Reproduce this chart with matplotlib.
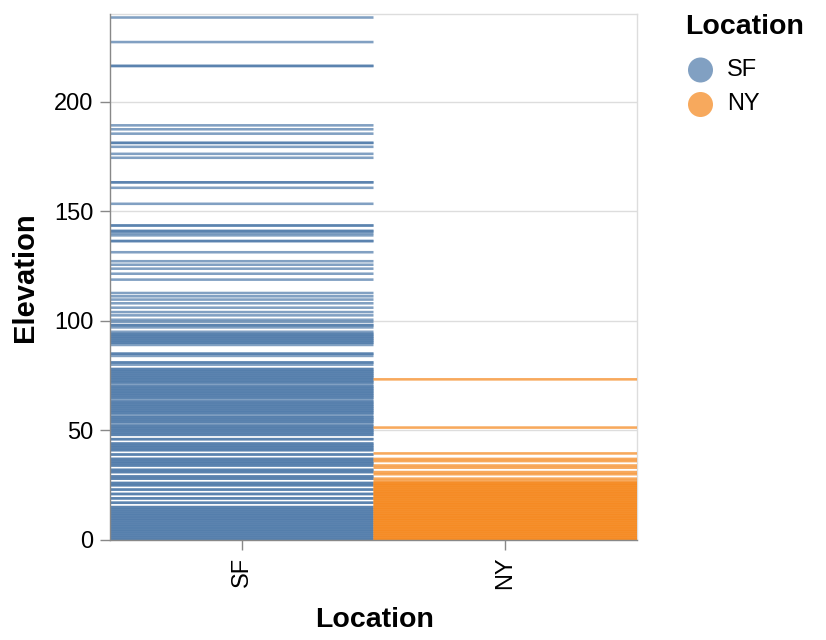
import matplotlib
matplotlib.use('Agg')
import matplotlib.pyplot as plt
from matplotlib.patches import Circle

# ---- data ----
locations = ['SF', 'NY']

sf_elevation = [
    0, 0, 1, 1, 2, 2, 3, 3, 4, 4, 5, 5, 6, 6, 7, 7, 8, 8, 9, 9,
    10, 10, 11, 11, 12, 12, 13, 13, 14, 14, 15, 15,
    17, 19, 21, 23, 25, 26, 28, 29, 31, 32, 34, 35, 36, 37, 39,
    17, 19, 21, 23, 25, 26, 28, 29, 31, 32, 34, 35, 36, 37, 39,
    41, 42, 43, 44, 46, 41, 42, 43, 44, 46,
    48, 49, 50, 51, 52, 53, 54, 55, 56, 57, 58, 59,
    60, 61, 62, 63, 64, 65, 66, 67, 68, 69, 70, 71, 72, 73, 74, 75, 76, 77, 78,
    48, 49, 50, 51, 52, 54, 55, 56, 58, 59, 60, 61, 62, 63, 65, 66,
    67, 68, 69, 70, 72, 73, 74, 75, 76, 77, 78,
    80, 81, 84, 85, 89, 90, 91, 92, 93, 94, 95, 97, 98, 99.5, 100.5,
    81, 85, 90, 91, 92, 93, 94, 98,
    102.5, 104, 106, 108, 109.7, 111.2, 112.7, 118.8, 121.5, 123.8, 125.6,
    127.2, 131.3, 136.4, 139, 140, 141, 143.5, 143.5, 141, 136.4,
    153.4, 160.7, 163.2, 163.2, 174.4, 176.2, 179.4, 181.2, 181.2,
    185.4, 187.4, 189.2, 216.3, 216.3, 227.2, 238.4,
]

ny_elevation = [
    0, 0, 1, 1, 2, 2, 3, 3, 4, 4, 5, 5, 6, 6, 7, 7, 8, 8, 9, 9,
    10, 10, 11, 11, 12, 12, 13, 13, 14, 14, 15, 15, 16, 16, 17, 17,
    18, 18, 19, 19, 20, 20, 21, 21, 22, 22, 23, 23, 24, 24, 25, 25,
    26, 26, 27,
    28, 30, 31, 33, 34, 36, 37, 39.5, 51.3, 73.3,
]

series_colors = ['#4c78a8', '#f58518']
y_ticks = [0, 50, 100, 150, 200]

# ---- figure ----
plt.rcParams['font.family'] = ['Liberation Sans', 'DejaVu Sans']
W, H = 826, 640
fig = plt.figure(figsize=(W / 100, H / 100), dpi=100)
ax = fig.add_axes([110 / W, 100 / H, 527 / W, 526 / H])

for i, (vals, col) in enumerate(zip([sf_elevation, ny_elevation], series_colors)):
    lc = ax.hlines(vals, i - 0.5, i + 0.5, colors=col, alpha=0.7,
                   linewidth=1.85, capstyle='butt', zorder=3)
    lc.set_snap(False)

ax.set_xlim(-0.5, 1.5)
ax.set_ylim(0, 240)
ax.set_xticks(range(len(locations)))
ax.set_xticklabels(locations, rotation=90, va='top', ha='center')
ax.set_yticks(y_ticks)

ax.yaxis.grid(True, color='#dddddd', linewidth=1, zorder=0)
ax.set_axisbelow(True)

for s in ['top', 'right']:
    ax.spines[s].set_color('#dddddd')
    ax.spines[s].set_linewidth(1)
for s in ['left', 'bottom']:
    ax.spines[s].set_color('#888888')
    ax.spines[s].set_linewidth(1)
    ax.spines[s].set_zorder(4)

ax.tick_params(axis='both', direction='out', length=7, width=1,
               color='#888888', labelsize=17, labelcolor='black', pad=5)

# axis titles
fig.text(375 / W, 1 - 620 / H, 'Location', ha='center', va='center',
         fontsize=20.5, fontweight='bold')
fig.text(25 / W, 1 - 277 / H, 'Elevation', ha='center', va='center',
         rotation=90, fontsize=21, fontweight='bold')

# legend (manual, pixel positioned)
fig.text(685 / W, 1 - 27 / H, 'Location', ha='left', va='center',
         fontsize=20.5, fontweight='bold')
lax = fig.add_axes([0, 0, 1, 1], facecolor='none')
lax.set_xlim(0, W)
lax.set_ylim(H, 0)
lax.axis('off')
for lab, col, cy in zip(locations, series_colors, [70, 104.5]):
    lax.add_patch(Circle((700.5, cy), 12.5, facecolor=col, alpha=0.7,
                         edgecolor='none'))
    lax.text(727, cy, lab, ha='left', va='center', fontsize=17)

fig.savefig('out.png', dpi=100)
